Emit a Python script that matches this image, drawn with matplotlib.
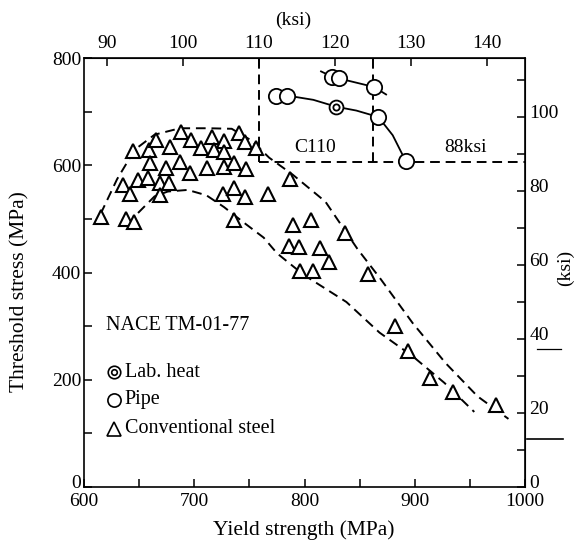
import matplotlib
matplotlib.use('Agg')
import matplotlib.pyplot as plt
import matplotlib.transforms as mtransforms
from matplotlib.lines import Line2D

plt.rcParams['font.family'] = ['Liberation Serif', 'DejaVu Serif']

KSI = 6.89476  # MPa per ksi

# ---------------- data ----------------
conv_x = [615, 644, 659, 665, 688, 678, 697, 706, 716, 727, 718, 727, 741, 746, 756,
          660, 687, 674, 696, 712, 727, 736, 747, 635, 649, 658, 669, 677, 642, 669,
          726, 736, 746, 767, 787, 638, 645, 736, 790, 806, 837, 786, 795, 814, 822,
          796, 808, 858, 882, 894, 914, 935, 974]
conv_y = [503, 626, 629, 648, 662, 634, 647, 632, 652, 646, 628, 624, 661, 643, 633,
          604, 606, 595, 585, 594, 596, 605, 593, 564, 573, 576, 567, 567, 546, 545,
          547, 558, 541, 547, 575, 499, 494, 498, 489, 498, 474, 449, 448, 445, 420,
          402, 403, 397, 301, 253, 203, 178, 152]

pipe_x = [825, 831, 863, 774, 784, 867, 892]
pipe_y = [765, 762, 746, 730, 730, 690, 607]
lab_x = [829]
lab_y = [709]

# trend lines through the high-strength results
trend1_x = [815, 825, 831, 863, 874]
trend1_y = [775, 765, 762, 746, 732]
trend2_x = [774, 784, 808, 829, 847, 867, 880, 892]
trend2_y = [730, 730, 722, 709, 702, 690, 656, 607]

# scatter-band envelopes (dashed)
upper_x = [615, 630, 646, 664, 687, 713, 734, 752, 768, 789, 819, 848, 869, 898, 928, 957, 985]
upper_y = [509, 574, 629, 657, 669, 669, 668, 646, 614, 583, 532, 444, 388, 306, 231, 169, 127]
lower_x = [649, 664, 676, 694, 711, 727, 745, 763, 775, 799, 838, 868, 898, 927, 954]
lower_y = [511, 542, 551, 554, 544, 522, 493, 465, 436, 396, 345, 288, 244, 194, 140]

# C110 limits (ksi)
c110_lo_ksi = 110
c110_hi_ksi = 125
c110_min_ksi = 88

x_ticks = [600, 700, 800, 900, 1000]
x_minor = [650, 750, 850, 950]
y_ticks = [0, 200, 400, 600, 800]
y_minor = [100, 300, 500, 700]
ksi_top_ticks = [90, 100, 110, 120, 130, 140]
ksi_right_ticks = [0, 20, 40, 60, 80, 100]
ksi_right_minor = [10, 30, 50, 70, 90, 110]

legend_labels = ['Lab. heat', 'Pipe', 'Conventional steel']
note_text = 'NACE TM-01-77'

# ---------------- figure ----------------
W, H = 578, 544
fig = plt.figure(figsize=(W / 100, H / 100), dpi=100)
ax = fig.add_axes([84 / W, 1 - 487 / H, 441 / W, 429 / H])
ax.set_xlim(600, 1000)
ax.set_ylim(0, 800)
for s in ax.spines.values():
    s.set_linewidth(1.2)

tick_fs = 14
ax.set_xticks(x_ticks)
ax.set_xticks(x_minor, minor=True)
ax.set_yticks(y_ticks)
ax.set_yticks(y_minor, minor=True)
ax.tick_params(which='both', direction='in', length=6, width=1.1, labelsize=tick_fs)
ax.tick_params(axis='x', which='both', pad=4)
ax.tick_params(axis='y', which='both', pad=2)
# the lowest left label sits a little higher in the reference
up6 = mtransforms.ScaledTranslation(0, 6 / 100, fig.dpi_scale_trans)
ylabs = ax.get_yticklabels()
ylabs[0].set_transform(ylabs[0].get_transform() + up6)

secx = ax.secondary_xaxis('top', functions=(lambda m: m / KSI, lambda k: k * KSI))
secx.set_xticks(ksi_top_ticks)
secx.tick_params(direction='in', length=6, width=1.1, labelsize=tick_fs, pad=4)

secy = ax.secondary_yaxis('right', functions=(lambda m: m / KSI, lambda k: k * KSI))
secy.set_yticks(ksi_right_ticks)
secy.set_yticks(ksi_right_minor, minor=True)
secy.tick_params(which='both', direction='in', length=6, width=1.1, labelsize=tick_fs, pad=3)
for lab in secy.get_yticklabels():
    lab.set_transform(lab.get_transform() + up6)

dash = dict(color='black', lw=1.4, linestyle=(0, (5, 3)))
ax.plot(upper_x, upper_y, **dash)
ax.plot(lower_x, lower_y, **dash)

# C110 window
ax.plot([c110_lo_ksi * KSI] * 2, [c110_min_ksi * KSI, 800], **dash)
ax.plot([c110_hi_ksi * KSI] * 2, [c110_min_ksi * KSI, 800], **dash)
ax.plot([c110_lo_ksi * KSI, 1000], [c110_min_ksi * KSI] * 2, **dash)
ax.text(810, 618, 'C110', fontsize=14, ha='center', va='bottom')
ax.text(946, 618, '88ksi', fontsize=14, ha='center', va='bottom')

ax.plot(trend1_x, trend1_y, color='black', lw=1.3)
ax.plot(trend2_x, trend2_y, color='black', lw=1.3)

ax.plot(conv_x, conv_y, linestyle='none', marker='^', ms=10.5, mfc='white',
        mec='black', mew=1.5, zorder=4)
ax.plot(pipe_x, pipe_y, linestyle='none', marker='o', ms=11, mfc='white',
        mec='black', mew=1.3, zorder=5)
ax.plot(lab_x, lab_y, linestyle='none', marker='o', ms=10, mfc='white',
        mec='black', mew=1.3, zorder=5)
ax.plot(lab_x, lab_y, linestyle='none', marker='o', ms=4.5, mfc='white',
        mec='black', mew=1.3, zorder=6)

# in-plot key
ax.text(620, 302, note_text, fontsize=14.5, ha='left', va='center')
key_x = 627
key_y = [214, 163, 109]
ax.plot([key_x], [key_y[0]], marker='o', ms=9, mfc='white', mec='black', mew=1.2)
ax.plot([key_x], [key_y[0]], marker='o', ms=4, mfc='white', mec='black', mew=1.2)
ax.plot([key_x], [key_y[1]], marker='o', ms=9.5, mfc='white', mec='black', mew=1.2)
ax.plot([key_x], [key_y[2]], marker='^', ms=9.5, mfc='white', mec='black', mew=1.2)
for lab, yy in zip(legend_labels, key_y):
    ax.text(key_x + 10, yy, lab, fontsize=14.5, ha='left', va='center')

# axis titles
fig.text(304 / W, 1 - 530 / H, 'Yield strength (MPa)', fontsize=15.5, ha='center', va='center')
fig.text(20 / W, 1 - 292 / H, 'Threshold stress (MPa)', fontsize=15.5, ha='center',
         va='center', rotation=90)
fig.text(293 / W, 1 - 20 / H, '(ksi)', fontsize=14, ha='center', va='center')
fig.text(565 / W, 1 - 268 / H, '(ksi)', fontsize=14, ha='center', va='center', rotation=90)

# stray marks beside the right axis
fig.add_artist(Line2D([537 / W, 561 / W], [1 - 349 / H] * 2, color='black', lw=0.9))
fig.add_artist(Line2D([527 / W, 563 / W], [1 - 439 / H] * 2, color='black', lw=1.2))

fig.savefig('out.png', dpi=100)
